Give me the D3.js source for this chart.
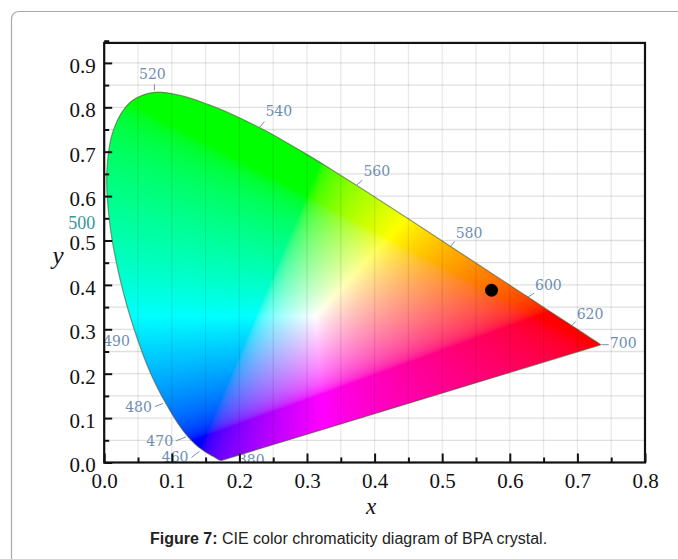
<!DOCTYPE html>
<html>
<head>
<meta charset="utf-8">
<script src="https://cdn.jsdelivr.net/npm/d3@7"></script>
<style>
  html, body { margin: 0; padding: 0; background: #fff; }
  svg { display: block; }
</style>
</head>
<body>
<svg id="chart" width="678" height="559"></svg>
<script>
// CIE 1931 2° spectral locus, 5 nm steps
const wavelengths = [380,385,390,395,400,405,410,415,420,425,430,435,440,445,450,455,460,465,470,475,
  480,485,490,495,500,505,510,515,520,525,530,535,540,545,550,555,560,565,570,575,580,585,590,595,
  600,605,610,615,620,625,630,635,640,645,650,655,660,665,670,675,680,685,690,695,700];
const locusX = [0.1741,0.1740,0.1738,0.1736,0.1733,0.1730,0.1726,0.1721,0.1714,0.1703,0.1689,0.1669,
  0.1644,0.1611,0.1566,0.1510,0.1440,0.1355,0.1241,0.1096,0.0913,0.0687,0.0454,0.0235,0.0082,0.0039,
  0.0139,0.0389,0.0743,0.1142,0.1547,0.1929,0.2296,0.2658,0.3016,0.3373,0.3731,0.4087,0.4441,0.4788,
  0.5125,0.5448,0.5752,0.6029,0.6270,0.6482,0.6658,0.6801,0.6915,0.7006,0.7079,0.7140,0.7190,0.7230,
  0.7260,0.7283,0.7300,0.7311,0.7320,0.7327,0.7334,0.7340,0.7344,0.7346,0.7347];
const locusY = [0.0050,0.0050,0.0049,0.0049,0.0048,0.0048,0.0048,0.0048,0.0051,0.0058,0.0069,0.0086,
  0.0109,0.0138,0.0177,0.0227,0.0297,0.0399,0.0578,0.0868,0.1327,0.2007,0.2950,0.4127,0.5384,0.6548,
  0.7502,0.8120,0.8338,0.8262,0.8059,0.7816,0.7543,0.7243,0.6923,0.6589,0.6245,0.5896,0.5547,0.5202,
  0.4866,0.4544,0.4242,0.3965,0.3725,0.3514,0.3340,0.3197,0.3083,0.2993,0.2920,0.2859,0.2809,0.2770,
  0.2740,0.2717,0.2700,0.2689,0.2680,0.2673,0.2666,0.2660,0.2656,0.2654,0.2653];

// Wavelengths marked along the locus
const markedWavelengths = [380,460,470,480,490,500,520,540,560,580,600,620,700];

// Measured emission chromaticity of the crystal
const sampleX = [0.573];
const sampleY = [0.388];

const xTickValues = [0,0.1,0.2,0.3,0.4,0.5,0.6,0.7,0.8];
const yTickValues = [0,0.1,0.2,0.3,0.4,0.5,0.6,0.7,0.8,0.9];
const xLabel = "x";
const yLabel = "y";
const captionBold = "Figure 7:";
const captionRest = " CIE color chromaticity diagram of BPA crystal.";

// ---------------------------------------------------------------
const svg = d3.select("#chart");
const W = 678, H = 559;

const x = d3.scaleLinear().domain([0, 0.8]).range([104.2, 645]);
const y = d3.scaleLinear().domain([0, 0.9]).range([462.5, 62.9]);
const yTop = 0.945;

const pL = x(0), pR = x(0.8), pB = y(0), pT = y(yTop);

// card outline
svg.append("rect")
  .attr("x", 11.5).attr("y", 11.5)
  .attr("width", W + 40).attr("height", H + 40)
  .attr("rx", 7)
  .attr("fill", "#fff")
  .attr("stroke", "#a8a8a8").attr("stroke-width", 1.2);

const defs = svg.append("defs");
defs.append("clipPath").attr("id", "plotClip")
  .append("rect")
  .attr("x", pL).attr("y", pT)
  .attr("width", pR - pL).attr("height", pB - pT);

const locusPts = wavelengths.map((w, i) => [locusX[i], locusY[i]]);
const locusLine = d3.line()
  .x(d => x(d[0])).y(d => y(d[1]))
  .curve(d3.curveCatmullRom.alpha(0.5));
const locusPath = locusLine(locusPts) + "Z";

defs.append("clipPath").attr("id", "locusClip")
  .append("path").attr("d", locusPath);

// grid every 0.05
const gridX = d3.range(0, 16).map(i => i * 0.05 + 0.05);
const gridY = d3.range(0, 19).map(i => i * 0.05 + 0.05);

const grid = svg.append("g").attr("clip-path", "url(#plotClip)");
grid.selectAll("line.h").data(gridY).join("line")
  .attr("x1", pL).attr("x2", pR)
  .attr("y1", d => y(d)).attr("y2", d => y(d))
  .attr("stroke", "#e0e0e0").attr("stroke-width", 1.3);

// chromaticity fill: xy -> linear sRGB, clipped and brightness-normalised
function chromaColor(cx, cy) {
  if (cy <= 0.0005) cy = 0.0005;
  const X = cx / cy, Y = 1, Z = (1 - cx - cy) / cy;
  let r =  3.2406 * X - 1.5372 * Y - 0.4986 * Z;
  let g = -0.9689 * X + 1.8758 * Y + 0.0415 * Z;
  let b =  0.0557 * X - 0.2040 * Y + 1.0570 * Z;
  r = Math.max(r, 0); g = Math.max(g, 0); b = Math.max(b, 0);
  const m = Math.max(r, g, b) || 1;
  const enc = v => {
    v = v / m;
    v = v <= 0.0031308 ? 12.92 * v : 1.055 * Math.pow(v, 1 / 2.4) - 0.055;
    return Math.round(Math.min(1, Math.max(0, v)) * 255);
  };
  return [enc(r), enc(g), enc(b)];
}

const pw = Math.ceil(pR - pL), ph = Math.ceil(pB - pT);
const canvas = document.createElement("canvas");
canvas.width = pw; canvas.height = ph;
const ctx = canvas.getContext("2d");
const img = ctx.createImageData(pw, ph);
for (let j = 0; j < ph; j++) {
  const cy = y.invert(pT + j + 0.5);
  for (let i = 0; i < pw; i++) {
    const cx = x.invert(pL + i + 0.5);
    const c = chromaColor(cx, cy);
    const k = (j * pw + i) * 4;
    img.data[k] = c[0]; img.data[k + 1] = c[1]; img.data[k + 2] = c[2]; img.data[k + 3] = 255;
  }
}
ctx.putImageData(img, 0, 0);

svg.append("g").attr("clip-path", "url(#locusClip)")
  .append("image")
  .attr("x", pL).attr("y", pT)
  .attr("width", pw).attr("height", ph)
  .attr("preserveAspectRatio", "none")
  .attr("href", canvas.toDataURL());

const gridV = svg.append("g").attr("clip-path", "url(#plotClip)");
gridV.selectAll("line.v").data(gridX).join("line")
  .attr("x1", d => x(d)).attr("x2", d => x(d))
  .attr("y1", pT).attr("y2", pB)
  .attr("stroke", "#000").attr("stroke-opacity", 0.09).attr("stroke-width", 1.3);

// locus outline
svg.append("path")
  .attr("d", locusPath)
  .attr("fill", "none")
  .attr("stroke", "#4c5a34").attr("stroke-opacity", 0.6)
  .attr("stroke-width", 1.2);

// wavelength labels
const labelLayout = {
  380: { dx: 16,  dy: 4.7, anchor: "start", leader: null },
  460: { dx: -13, dy: 13,  anchor: "end",   leader: [-10, 8, -2, 2] },
  470: { dx: -15, dy: 9,   anchor: "end",   leader: [-12, 4, -2, 0] },
  480: { dx: -14, dy: 8.5, anchor: "end",   leader: [-11, 3, -3, 0] },
  490: { dx: -5,  dy: 14.5,anchor: "end",   leader: null },
  500: { dx: -14.5, dy: 5.5, anchor: "end", leader: null },
  520: { dx: -2,  dy: -13, anchor: "middle",leader: [0, -2, 0, -8] },
  540: { dx: 6,   dy: -12, anchor: "start", leader: [0, 0, 5, -6] },
  560: { dx: 7,   dy: -9,  anchor: "start", leader: [0, 0, 6, -5] },
  580: { dx: 5,   dy: -8,  anchor: "start", leader: [0, 0, 4, -5] },
  600: { dx: 7,   dy: -7,  anchor: "start", leader: [0, 0, 6, -4] },
  620: { dx: 5,   dy: -7,  anchor: "start", leader: [0, 0, 4, -4] },
  700: { dx: 9,   dy: 3,   anchor: "start", leader: [1, 0, 8, 0] }
};

const marks = markedWavelengths.map(w => {
  const i = wavelengths.indexOf(w);
  return { w, px: x(locusX[i]), py: y(locusY[i]), ...labelLayout[w] };
});

const labelG = svg.append("g");
labelG.selectAll("line").data(marks.filter(d => d.leader)).join("line")
  .attr("x1", d => d.px + d.leader[0]).attr("y1", d => d.py + d.leader[1])
  .attr("x2", d => d.px + d.leader[2]).attr("y2", d => d.py + d.leader[3])
  .attr("stroke", "#7390b2").attr("stroke-width", 1);

labelG.selectAll("text").data(marks).join("text")
  .attr("x", d => d.px + d.dx).attr("y", d => d.py + d.dy)
  .attr("text-anchor", d => d.anchor)
  .attr("clip-path", d => d.w === 380 ? "url(#plotClip)" : null)
  .attr("font-family", d => d.w === 500 ? "'Liberation Serif', serif" : "'DejaVu Serif', serif")
  .attr("font-size", d => d.w === 500 ? 18 : 14)
  .attr("fill", d => d.w === 500 ? "#3a9696" : "#6d8db2")
  .text(d => d.w);

// sample point
svg.selectAll("circle.sample").data(sampleX.map((v, i) => [v, sampleY[i]])).join("circle")
  .attr("class", "sample")
  .attr("cx", d => x(d[0])).attr("cy", d => y(d[1]))
  .attr("r", 6.5).attr("fill", "#000");

// frame
svg.append("rect")
  .attr("x", pL).attr("y", pT)
  .attr("width", pR - pL).attr("height", pB - pT)
  .attr("fill", "none").attr("stroke", "#111").attr("stroke-width", 2.2);

// axes with inward ticks
const tickFont = "'Liberation Serif', 'Times New Roman', serif";
const isMinor = v => Math.abs(v * 10 - Math.round(v * 10)) > 1e-6;
const minorX = gridX.filter(isMinor);
const minorY = gridY.filter(isMinor);

function styleAxis(g) {
  g.select(".domain").remove();
  g.selectAll(".tick line").attr("stroke", "#111").attr("stroke-width", 2);
  g.selectAll(".tick text").attr("font-family", tickFont).attr("font-size", 21).attr("fill", "#111");
}

svg.append("g").attr("transform", `translate(${pL},0)`)
  .call(d3.axisLeft(y).tickValues(yTickValues).tickSize(-8).tickPadding(8.5).tickFormat(d3.format(".1f")))
  .call(styleAxis)
  .call(g => g.selectAll(".tick text").attr("dy", "0.45em"));
svg.append("g").attr("transform", `translate(${pL},0)`)
  .call(d3.axisLeft(y).tickValues(minorY).tickSize(-5).tickFormat(""))
  .call(styleAxis);

svg.append("g").attr("transform", `translate(0,${pB})`)
  .call(d3.axisBottom(x).tickValues(xTickValues).tickSize(-9).tickPadding(10.5).tickFormat(d3.format(".1f")))
  .call(styleAxis);
svg.append("g").attr("transform", `translate(0,${pB})`)
  .call(d3.axisBottom(x).tickValues(minorX).tickSize(-5).tickFormat(""))
  .call(styleAxis);

// axis titles
svg.append("text")
  .attr("x", 371).attr("y", 513.5)
  .attr("text-anchor", "middle")
  .attr("font-family", tickFont).attr("font-style", "italic").attr("font-size", 23)
  .attr("fill", "#111").text(xLabel);
svg.append("text")
  .attr("x", 58).attr("y", 264)
  .attr("text-anchor", "middle")
  .attr("font-family", tickFont).attr("font-style", "italic").attr("font-size", 25)
  .attr("fill", "#111").text(yLabel);

// caption
const cap = svg.append("text")
  .attr("x", 348.5).attr("y", 544)
  .attr("text-anchor", "middle")
  .attr("font-family", "'Liberation Sans', Arial, sans-serif").attr("font-size", 16)
  .attr("fill", "#222");
cap.append("tspan").attr("font-weight", "bold").text(captionBold);
cap.append("tspan").text(captionRest);
</script>
</body>
</html>
